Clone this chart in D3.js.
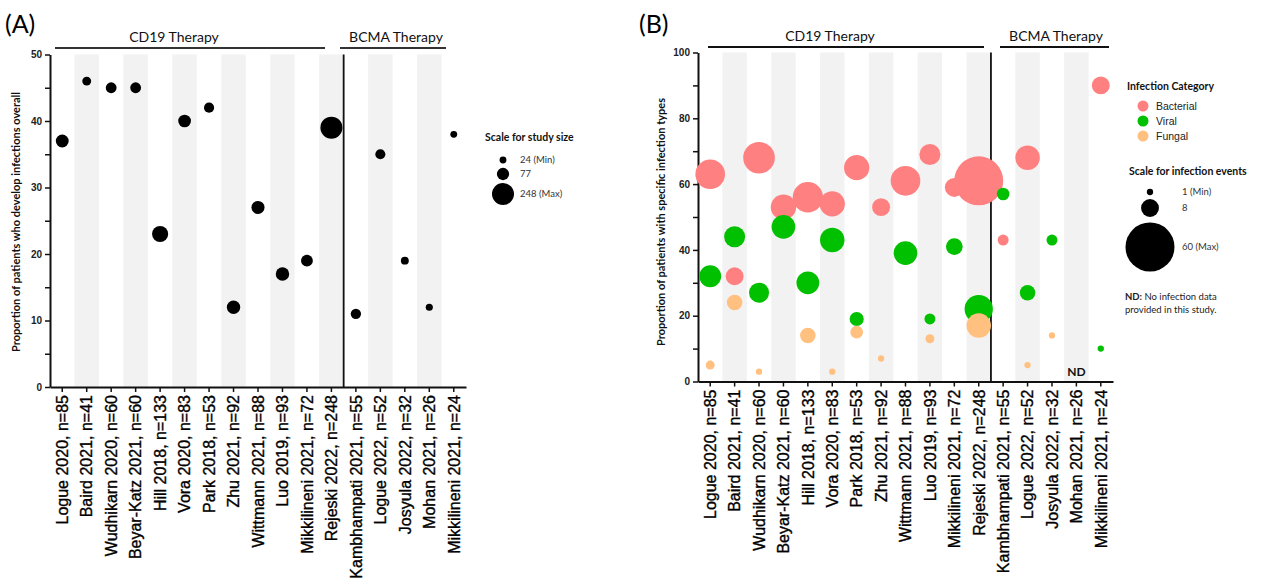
<!DOCTYPE html>
<html>
<head>
<meta charset="utf-8">
<script src="https://cdn.jsdelivr.net/npm/d3@7"></script>
<style>
  body { margin: 0; background: #fff; }
  svg { display: block; }
</style>
</head>
<body>
<div id="chart"></div>
<script>
// studies, CD19 first then BCMA
const studies = [
  "Logue 2020, n=85", "Baird 2021, n=41", "Wudhikarn 2020, n=60", "Beyar-Katz 2021, n=60",
  "Hill 2018, n=133", "Vora 2020, n=83", "Park 2018, n=53", "Zhu 2021, n=92",
  "Wittmann 2021, n=88", "Luo 2019, n=93", "Mikkilineni 2021, n=72", "Rejeski 2022, n=248",
  "Kambhampati 2021, n=55", "Logue 2022, n=52", "Josyula 2022, n=32", "Mohan 2021, n=26",
  "Mikkilineni 2021, n=24"
];
const cd19Count = 12;
const studySize = [85, 41, 60, 60, 133, 83, 53, 92, 88, 93, 72, 248, 55, 52, 32, 26, 24];

// panel A: % of patients with any infection
const overallInfection = [37, 46, 45, 45, 23, 40, 42, 12, 27, 17, 19, 39, 11, 35, 19, 12, 38];

// panel B: % of patients per infection type, and number of events (bubble size)
const bacterialPct    = [63, 32, 68, 53, 56, 54, 65, 53, 61, 69, 59, 61, 43, 68, null, null, 90];
const bacterialEvents = [22, 8, 25, 16, 23, 16, 16, 8, 22, 11, 9, 60, 3, 15, null, null, 8];
const viralPct        = [32, 44, 27, 47, 30, 43, 19, null, 39, 19, 41, 22, 57, 27, 43, null, 10];
const viralEvents     = [12, 11, 10, 14, 13, 15, 5, null, 14, 3, 7, 20, 4, 6, 3, null, 1];
const fungalPct       = [5, 24, 3, null, 14, 3, 15, 7, null, 13, null, 17, null, 5, 14, null, null];
const fungalEvents    = [2, 6, 1, null, 6, 1, 4, 1, null, 2, null, 15, null, 1, 1, null, null];
const noDataStudy = "Mohan 2021, n=26";

const categories = ["Bacterial", "Viral", "Fungal"];
const categoryColors = ["#ff8080", "#00c000", "#ffc080"];

const sizeLegendA = [24, 77, 248];
const sizeLegendALabels = ["24  (Min)", "77", "248 (Max)"];
const sizeLegendB = [1, 8, 60];
const sizeLegendBLabels = ["1  (Min)", "8", "60  (Max)"];

const calibri = "Lato, 'Open Sans', sans-serif";
const arial = "'Liberation Sans', Arial, sans-serif";

const svg = d3.select("#chart").append("svg")
  .attr("width", 1262)
  .attr("height", 585);

function drawFrame(o) {
  const x = d3.scaleBand().domain(studies).range([o.left, o.right]);
  const y = d3.scaleLinear().domain([0, o.yMax]).range([o.bottom, o.top]);
  const g = svg.append("g");

  g.append("g").selectAll("rect")
    .data(studies.filter((d, i) => i % 2 === 1))
    .join("rect")
      .attr("x", d => x(d))
      .attr("y", o.top)
      .attr("width", x.bandwidth())
      .attr("height", o.bottom - o.top)
      .attr("fill", "#f2f2f2");

  // separator between CD19 and BCMA
  const sepX = x(studies[cd19Count]);
  g.append("line")
    .attr("x1", sepX).attr("x2", sepX)
    .attr("y1", o.top).attr("y2", o.bottom)
    .attr("stroke", "#111").attr("stroke-width", 1.8);

  // y axis, major + minor ticks
  const yAxis = g.append("g")
    .attr("transform", `translate(${o.left},0)`)
    .call(d3.axisLeft(y).tickValues(d3.range(0, o.yMax + 1, o.yStep)).tickSize(5).tickPadding(3).tickSizeOuter(0));
  g.append("g")
    .attr("transform", `translate(${o.left},0)`)
    .call(d3.axisLeft(y).tickValues(d3.range(o.yStep / 2, o.yMax, o.yStep)).tickSize(5).tickFormat(""))
    .select(".domain").remove();
  g.selectAll(".tick line").attr("stroke", "#111").attr("stroke-width", 1.5);
  yAxis.select(".domain").attr("stroke", "#111").attr("stroke-width", 2);
  yAxis.selectAll(".tick text")
    .attr("font-family", arial).attr("font-weight", "bold").attr("font-size", 10).attr("fill", "#222");

  // x axis
  const xAxis = g.append("g")
    .attr("transform", `translate(0,${o.bottom})`)
    .call(d3.axisBottom(x).tickSize(5).tickSizeOuter(0).tickFormat(""));
  xAxis.select(".domain").attr("stroke", "#111").attr("stroke-width", 2);
  xAxis.selectAll(".tick line").attr("stroke", "#111").attr("stroke-width", 1.5);

  g.append("g").selectAll("text")
    .data(studies)
    .join("text")
      .attr("transform", d => `translate(${x(d) + x.bandwidth() / 2},${o.bottom + o.labelGap}) rotate(-90)`)
      .attr("text-anchor", "end")
      .attr("dy", "0.36em")
      .attr("font-family", arial)
      .attr("font-size", 16)
      .attr("fill", "#000")
      .attr("stroke", "#000")
      .attr("stroke-width", 0.35)
      .text(d => d);

  // y label
  g.append("text")
    .attr("transform", `translate(${o.yLabelX},${o.yLabelY}) rotate(-90)`)
    .attr("text-anchor", "middle")
    .attr("dy", "0.35em")
    .attr("font-family", calibri)
    .attr("font-weight", "bold")
    .attr("font-size", 11)
    .attr("fill", "#111")
    .text(o.yLabel);

  // therapy brackets
  o.brackets.forEach(b => {
    g.append("line")
      .attr("x1", b.x1).attr("x2", b.x2)
      .attr("y1", o.bracketY).attr("y2", o.bracketY)
      .attr("stroke", o.bracketColor).attr("stroke-width", 1.8);
    g.append("text")
      .attr("x", b.tx).attr("y", o.bracketY - 6)
      .attr("text-anchor", "middle")
      .attr("font-family", calibri)
      .attr("font-size", 14)
      .attr("fill", "#111")
      .text(b.label);
  });

  // panel letter
  g.append("text")
    .attr("x", o.letterX).attr("y", 33)
    .attr("font-family", calibri)
    .attr("font-size", 25)
    .attr("fill", "#000")
    .text(o.letter);

  return { x, y, g };
}

// ---------------- Panel A ----------------
const A = drawFrame({
  left: 50, right: 466, top: 54.5, bottom: 387, yMax: 50, yStep: 10, labelGap: 8,
  yLabel: "Proportion of patients who develop infections overall", yLabelX: 16, yLabelY: 222,
  bracketY: 48, bracketColor: "#333",
  brackets: [
    { x1: 55, x2: 325, tx: 174, label: "CD19 Therapy" },
    { x1: 340, x2: 446, tx: 396, label: "BCMA Therapy" }
  ],
  letter: "(A)", letterX: 5
});

const rA = d3.scaleSqrt().domain([0, 248]).range([0, 11]);

A.g.append("g").selectAll("circle")
  .data(studies.map((s, i) => ({ s, v: overallInfection[i], n: studySize[i] })))
  .join("circle")
    .attr("cx", d => A.x(d.s) + A.x.bandwidth() / 2)
    .attr("cy", d => A.y(d.v))
    .attr("r", d => rA(d.n))
    .attr("fill", "#000");

const legA = svg.append("g");
legA.append("text")
  .attr("x", 485).attr("y", 141)
  .attr("font-family", calibri).attr("font-weight", "bold").attr("font-size", 10.5)
  .attr("fill", "#111")
  .text("Scale for study size");
const legAY = [160, 174, 194];
sizeLegendA.forEach((v, i) => {
  legA.append("circle").attr("cx", 503).attr("cy", legAY[i]).attr("r", rA(v)).attr("fill", "#000");
  legA.append("text")
    .attr("x", 520).attr("y", legAY[i]).attr("dy", "0.35em")
    .attr("font-family", calibri).attr("font-size", 9.5).attr("fill", "#333")
    .text(sizeLegendALabels[i]);
});

// ---------------- Panel B ----------------
const B = drawFrame({
  left: 698, right: 1113, top: 52.5, bottom: 381.5, yMax: 100, yStep: 20, labelGap: 8,
  yLabel: "Proportion of patients with specific infection types", yLabelX: 661, yLabelY: 222,
  bracketY: 47, bracketColor: "#111",
  brackets: [
    { x1: 708, x2: 984, tx: 830, label: "CD19 Therapy" },
    { x1: 1000, x2: 1109, tx: 1056, label: "BCMA Therapy" }
  ],
  letter: "(B)", letterX: 639
});

const rB = d3.scaleSqrt().domain([0, 60]).range([0, 24.5]);

const typeSeries = [
  { pct: bacterialPct, ev: bacterialEvents },
  { pct: viralPct, ev: viralEvents },
  { pct: fungalPct, ev: fungalEvents }
];
typeSeries.forEach((t, k) => {
  const pts = studies
    .map((s, i) => ({ s, v: t.pct[i], e: t.ev[i] }))
    .filter(d => d.v != null);
  B.g.append("g").selectAll("circle")
    .data(pts)
    .join("circle")
      .attr("cx", d => B.x(d.s) + B.x.bandwidth() / 2)
      .attr("cy", d => B.y(d.v))
      .attr("r", d => rB(d.e))
      .attr("fill", categoryColors[k]);
});

B.g.append("text")
  .attr("x", B.x(noDataStudy) + B.x.bandwidth() / 2)
  .attr("y", B.y(0) - 6)
  .attr("text-anchor", "middle")
  .attr("font-family", calibri).attr("font-weight", "bold").attr("font-size", 12)
  .attr("fill", "#111")
  .text("ND");

const legB = svg.append("g");
legB.append("text")
  .attr("x", 1127).attr("y", 90)
  .attr("font-family", calibri).attr("font-weight", "bold").attr("font-size", 10.5)
  .attr("fill", "#111")
  .text("Infection Category");
const catY = [106, 121, 136];
categories.forEach((c, i) => {
  legB.append("circle").attr("cx", 1143).attr("cy", catY[i]).attr("r", 5.5).attr("fill", categoryColors[i]);
  legB.append("text")
    .attr("x", 1156).attr("y", catY[i]).attr("dy", "0.35em")
    .attr("font-family", arial).attr("font-size", 10.5).attr("fill", "#222")
    .text(c);
});

legB.append("text")
  .attr("x", 1129).attr("y", 175)
  .attr("font-family", calibri).attr("font-weight", "bold").attr("font-size", 10.5)
  .attr("fill", "#111")
  .text("Scale for infection events");
const legBY = [192, 208, 247];
sizeLegendB.forEach((v, i) => {
  legB.append("circle").attr("cx", 1150).attr("cy", legBY[i]).attr("r", rB(v)).attr("fill", "#000");
  legB.append("text")
    .attr("x", 1182).attr("y", legBY[i]).attr("dy", "0.35em")
    .attr("font-family", calibri).attr("font-size", 9.5).attr("fill", "#333")
    .text(sizeLegendBLabels[i]);
});

const nd = legB.append("text")
  .attr("x", 1125).attr("y", 300)
  .attr("font-family", calibri).attr("font-size", 9.5).attr("fill", "#222");
nd.append("tspan").attr("font-weight", "bold").text("ND:");
nd.append("tspan").text(" No infection data");
legB.append("text")
  .attr("x", 1125).attr("y", 313)
  .attr("font-family", calibri).attr("font-size", 9.5).attr("fill", "#222")
  .text("provided in this study.");
</script>
</body>
</html>
